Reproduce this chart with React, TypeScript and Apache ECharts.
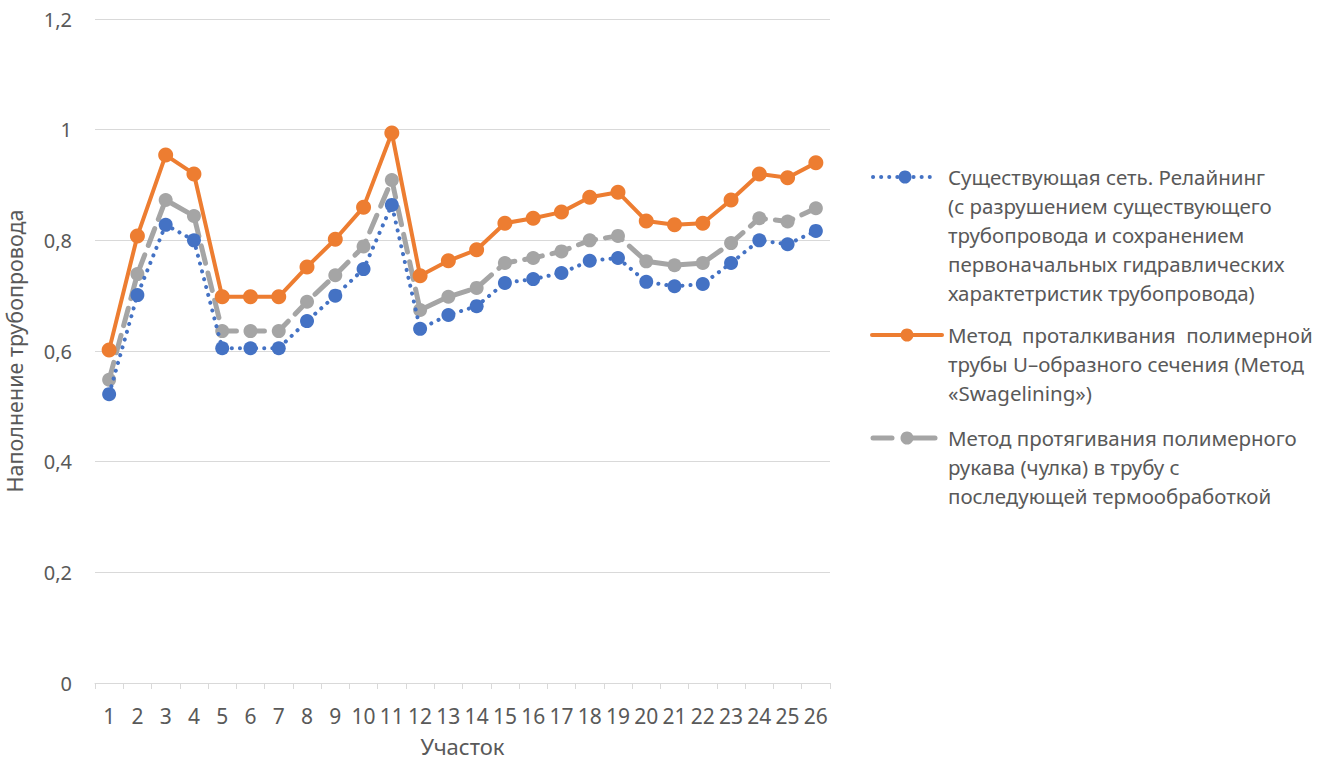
import React, { useEffect, useRef } from "react";
import * as echarts from "echarts";

const categories = ["1","2","3","4","5","6","7","8","9","10","11","12","13","14","15","16","17","18","19","20","21","22","23","24","25","26"];
const relining = [0.522,0.701,0.828,0.80,0.605,0.605,0.605,0.654,0.70,0.748,0.864,0.64,0.665,0.681,0.723,0.73,0.741,0.763,0.768,0.725,0.717,0.721,0.759,0.80,0.793,0.817];
const swagelining = [0.602,0.808,0.954,0.92,0.698,0.698,0.698,0.752,0.802,0.86,0.994,0.736,0.763,0.783,0.831,0.84,0.851,0.878,0.887,0.835,0.828,0.831,0.873,0.92,0.913,0.94];
const sleeve = [0.548,0.739,0.873,0.844,0.636,0.636,0.636,0.689,0.737,0.789,0.909,0.674,0.698,0.714,0.759,0.768,0.78,0.80,0.808,0.762,0.755,0.759,0.795,0.84,0.834,0.858];

const seriesNames = [
  "Существующая сеть. Релайнинг\n(с разрушением существующего\nтрубопровода и сохранением\nпервоначальных гидравлических\nхарактетристик трубопровода)",
  "Метод  проталкивания  полимерной\nтрубы U–образного сечения (Метод\n«Swagelining»)",
  "Метод протягивания полимерного\nрукава (чулка) в трубу с\nпоследующей термообработкой",
];

const BLUE = "#4472C4";
const ORANGE = "#ED7D31";
const GRAY = "#A5A5A5";
const TXT = "#595959";
const FONT = "'Noto Sans', sans-serif";

export default function App() {
  const ref = useRef<HTMLDivElement>(null);
  useEffect(() => {
    if (!ref.current) return;
    const chart = echarts.init(ref.current, undefined, { renderer: "svg" });
    const legendY = [177, 335, 438];
    const legendGraphics: any[] = [];
    legendGraphics.push({
      type: "line", shape: { x1: 873, y1: legendY[0], x2: 937, y2: legendY[0] },
      style: { stroke: BLUE, lineWidth: 4, lineDash: [0.1, 8], lineCap: "round" },
    });
    legendGraphics.push({ type: "circle", shape: { cx: 905, cy: legendY[0], r: 6.5 }, style: { fill: BLUE } });
    legendGraphics.push({
      type: "line", shape: { x1: 872, y1: legendY[1], x2: 942, y2: legendY[1] },
      style: { stroke: ORANGE, lineWidth: 4, lineCap: "round" },
    });
    legendGraphics.push({ type: "circle", shape: { cx: 907, cy: legendY[1], r: 6.5 }, style: { fill: ORANGE } });
    legendGraphics.push({
      type: "line", shape: { x1: 873, y1: legendY[2], x2: 892, y2: legendY[2] },
      style: { stroke: GRAY, lineWidth: 5, lineCap: "round" },
    });
    legendGraphics.push({
      type: "line", shape: { x1: 912, y1: legendY[2], x2: 935, y2: legendY[2] },
      style: { stroke: GRAY, lineWidth: 5, lineCap: "round" },
    });
    legendGraphics.push({ type: "circle", shape: { cx: 907, cy: legendY[2], r: 6.5 }, style: { fill: GRAY } });
    seriesNames.forEach((n, i) => {
      legendGraphics.push({
        type: "text", x: 948, y: legendY[i] - 14.5,
        style: { text: n, fill: TXT, font: `20.5px ${FONT}`, lineHeight: 29, verticalAlign: "top" },
      });
    });

    chart.setOption({
      animation: false,
      textStyle: { fontFamily: FONT },
      grid: { left: 95, right: 503, top: 19, bottom: 79, containLabel: false, outerBoundsMode: "none" },
      xAxis: {
        type: "category",
        data: categories,
        boundaryGap: true,
        name: "Участок",
        nameLocation: "middle",
        nameGap: 52,
        nameTextStyle: { color: TXT, fontSize: 22, fontFamily: FONT },
        axisLine: { lineStyle: { color: "#D9D9D9", width: 1 } },
        axisTick: { show: true, alignWithLabel: false, length: 6, lineStyle: { color: "#D9D9D9" } },
        axisLabel: { color: TXT, fontSize: 21, margin: 22, interval: 0, fontFamily: FONT },
      },
      yAxis: {
        type: "value",
        min: 0, max: 1.2, interval: 0.2,
        name: "Наполнение трубопровода",
        nameLocation: "middle",
        nameGap: 70,
        nameTextStyle: { color: TXT, fontSize: 21.5, fontFamily: FONT },
        axisLine: { show: false },
        axisTick: { show: false },
        splitLine: { lineStyle: { color: "#D9D9D9", width: 1 } },
        axisLabel: {
          color: TXT, fontSize: 20, margin: 23, fontFamily: FONT,
          formatter: (v: number) => String(Math.round(v * 10) / 10).replace(".", ","),
        },
      },
      series: [
        {
          name: seriesNames[0], type: "line", data: relining, z: 3,
          symbol: "circle", symbolSize: 14,
          itemStyle: { color: BLUE },
          lineStyle: { color: BLUE, width: 4, type: [0.1, 8], cap: "round" },
        },
        {
          name: seriesNames[2], type: "line", data: sleeve, z: 2,
          symbol: "circle", symbolSize: 14,
          itemStyle: { color: GRAY },
          lineStyle: { color: GRAY, width: 5, type: [18, 10], cap: "round" },
        },
        {
          name: seriesNames[1], type: "line", data: swagelining, z: 4,
          symbol: "circle", symbolSize: 15,
          itemStyle: { color: ORANGE },
          lineStyle: { color: ORANGE, width: 4 },
        },
      ],
      graphic: legendGraphics,
    });
    return () => chart.dispose();
  }, []);
  return <div ref={ref} style={{ width: 1333, height: 762, position: "absolute", left: 0, top: 0, background: "#fff" }} />;
}
